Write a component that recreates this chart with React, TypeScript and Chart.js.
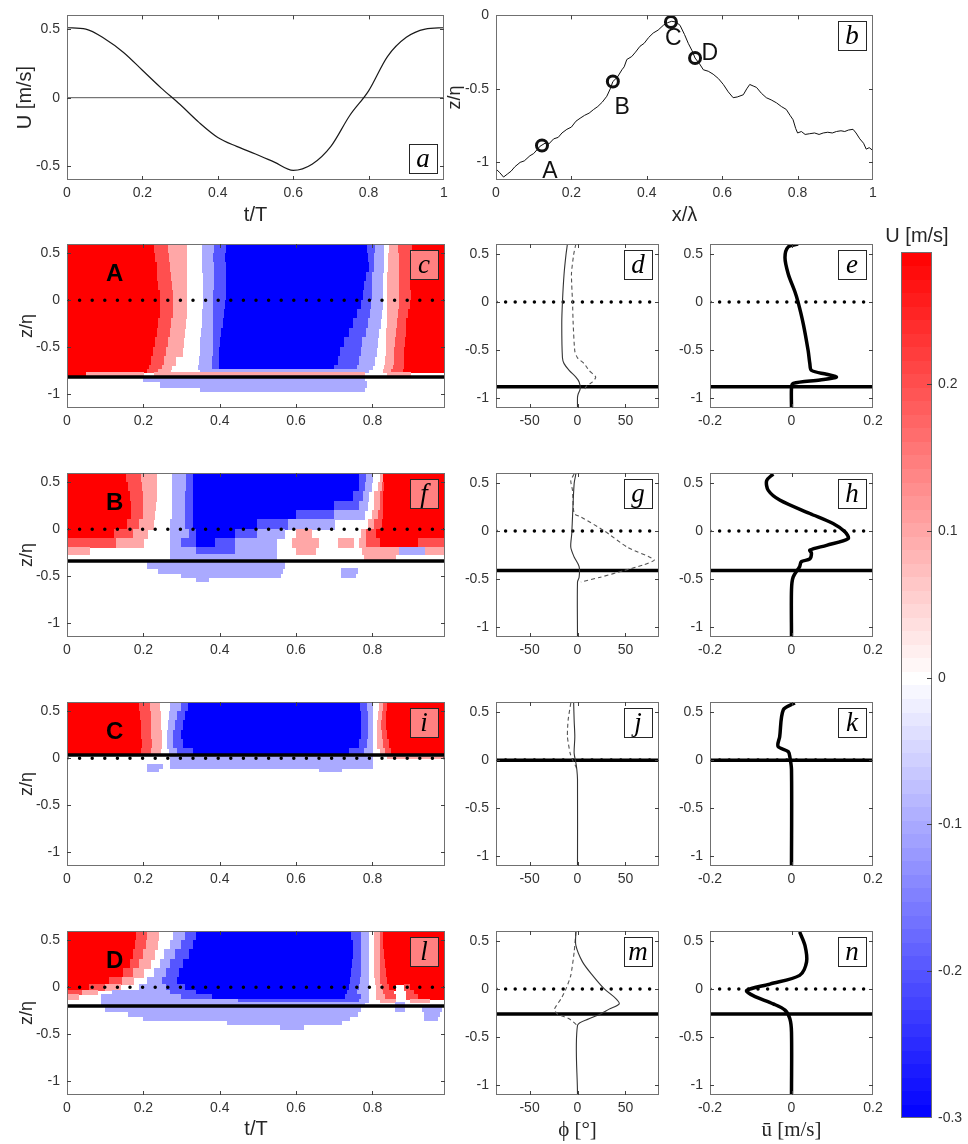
import React, { useEffect, useRef } from 'react';
import { Chart, registerables } from 'chart.js';

Chart.register(...registerables);

const PAGE_W = 968;
const PAGE_H = 1144;
const SANS = '"Liberation Sans", Arial, Helvetica, sans-serif';
const SERIF = '"Liberation Serif", "DejaVu Serif", "Times New Roman", serif';
const INK = '#262626';

// ---------------- (a) free-stream velocity over a wave period ----------------
const aT = [0, 0.05, 0.1, 0.15, 0.2, 0.25, 0.3, 0.35, 0.4, 0.45, 0.5, 0.55, 0.6, 0.65, 0.7, 0.75, 0.8, 0.85, 0.9, 0.95, 1];
const aU = [0.51, 0.5, 0.43, 0.33, 0.2, 0.07, -0.05, -0.18, -0.29, -0.355, -0.41, -0.47, -0.53, -0.485, -0.355, -0.13, 0.05, 0.3, 0.44, 0.5, 0.51];
const aXTicks = [0, 0.2, 0.4, 0.6, 0.8, 1];
const aYTicks = [-0.5, 0, 0.5];

// ---------------- (b) bed profile with measuring sites ----------------
const bX = [0, 0.01, 0.02, 0.03, 0.04, 0.05, 0.064, 0.075, 0.09, 0.1, 0.117, 0.13, 0.14, 0.153, 0.165, 0.175, 0.188, 0.2, 0.212, 0.223, 0.235, 0.247, 0.259, 0.27, 0.282, 0.294, 0.303, 0.31, 0.322, 0.334, 0.34, 0.347, 0.36, 0.37, 0.382, 0.393, 0.405, 0.417, 0.43, 0.444, 0.455, 0.466, 0.477, 0.488, 0.5, 0.51, 0.52, 0.528, 0.54, 0.55, 0.563, 0.576, 0.59, 0.603, 0.616, 0.629, 0.64, 0.656, 0.665, 0.673, 0.682, 0.691, 0.704, 0.717, 0.73, 0.744, 0.757, 0.77, 0.78, 0.788, 0.795, 0.8, 0.81, 0.82, 0.832, 0.845, 0.857, 0.868, 0.88, 0.892, 0.903, 0.915, 0.925, 0.935, 0.947, 0.955, 0.965, 0.975, 0.982, 0.99, 1];
const bZ = [-1.045, -1.07, -1.1, -1.08, -1.06, -1.03, -1.0, -0.99, -0.955, -0.94, -0.89, -0.87, -0.875, -0.84, -0.83, -0.8, -0.775, -0.76, -0.72, -0.7, -0.68, -0.665, -0.64, -0.62, -0.59, -0.55, -0.5, -0.45, -0.42, -0.37, -0.35, -0.3, -0.28, -0.25, -0.21, -0.19, -0.15, -0.12, -0.1, -0.067, -0.05, -0.04, -0.045, -0.067, -0.13, -0.19, -0.24, -0.29, -0.33, -0.37, -0.38, -0.4, -0.43, -0.47, -0.52, -0.56, -0.555, -0.54, -0.5, -0.47, -0.48, -0.49, -0.53, -0.56, -0.575, -0.595, -0.62, -0.64, -0.68, -0.71, -0.77, -0.8, -0.79, -0.81, -0.805, -0.8, -0.81, -0.8, -0.795, -0.8, -0.79, -0.785, -0.79, -0.78, -0.775, -0.8, -0.84, -0.87, -0.91, -0.9, -0.92];
const siteNames = ['A', 'B', 'C', 'D'];
const siteX = [0.122, 0.31, 0.464, 0.528];
const siteZ = [-0.885, -0.45, -0.045, -0.29];
const siteLabelX = [0.143, 0.335, 0.47, 0.567];
const siteLabelZ = [-1.06, -0.63, -0.16, -0.26];
const bXTicks = [0, 0.2, 0.4, 0.6, 0.8, 1];
const bYTicks = [-1, -0.5, 0];

// ---------------- contour panels: rows [zTop, zBottom, U, tEnd, U, tEnd, ...] ----------------
const tTicks = [0, 0.2, 0.4, 0.6, 0.8];
const zTicks = [-1, -0.5, 0, 0.5];

const contourA = [
  [0.6, 0.5, 0.3, 0.23, 0.2, 0.265, 0.1, 0.312, 0, 0.355, -0.1, 0.385, -0.2, 0.418, -0.3, 0.787, -0.2, 0.808, -0.1, 0.83, 0, 0.845, 0.1, 0.868, 0.2, 0.905, 0.3, 1],
  [0.5, 0.4, 0.3, 0.232, 0.2, 0.268, 0.1, 0.312, 0, 0.356, -0.1, 0.383, -0.2, 0.415, -0.3, 0.79, -0.2, 0.805, -0.1, 0.828, 0, 0.842, 0.1, 0.87, 0.2, 0.9, 0.3, 1],
  [0.4, 0.3, 0.3, 0.236, 0.2, 0.272, 0.1, 0.313, 0, 0.356, -0.1, 0.385, -0.2, 0.418, -0.3, 0.792, -0.2, 0.805, -0.1, 0.828, 0, 0.842, 0.1, 0.872, 0.2, 0.9, 0.3, 1],
  [0.3, 0.2, 0.3, 0.238, 0.2, 0.274, 0.1, 0.313, 0, 0.357, -0.1, 0.385, -0.2, 0.418, -0.3, 0.785, -0.2, 0.8, -0.1, 0.826, 0, 0.84, 0.1, 0.872, 0.2, 0.9, 0.3, 1],
  [0.2, 0.1, 0.3, 0.24, 0.2, 0.276, 0.1, 0.314, 0, 0.357, -0.1, 0.385, -0.2, 0.418, -0.3, 0.78, -0.2, 0.8, -0.1, 0.826, 0, 0.84, 0.1, 0.872, 0.2, 0.9, 0.3, 1],
  [0.1, 0.0, 0.3, 0.244, 0.2, 0.279, 0.1, 0.314, 0, 0.357, -0.1, 0.384, -0.2, 0.418, -0.3, 0.776, -0.2, 0.8, -0.1, 0.826, 0, 0.84, 0.1, 0.872, 0.2, 0.902, 0.3, 1],
  [0.0, -0.1, 0.3, 0.245, 0.2, 0.28, 0.1, 0.314, 0, 0.357, -0.1, 0.383, -0.2, 0.415, -0.3, 0.77, -0.2, 0.798, -0.1, 0.826, 0, 0.84, 0.1, 0.87, 0.2, 0.9, 0.3, 1],
  [-0.1, -0.2, 0.3, 0.244, 0.2, 0.278, 0.1, 0.312, 0, 0.356, -0.1, 0.383, -0.2, 0.412, -0.3, 0.762, -0.2, 0.795, -0.1, 0.824, 0, 0.84, 0.1, 0.868, 0.2, 0.895, 0.3, 1],
  [-0.2, -0.3, 0.3, 0.24, 0.2, 0.274, 0.1, 0.31, 0, 0.354, -0.1, 0.384, -0.2, 0.41, -0.3, 0.75, -0.2, 0.79, -0.1, 0.82, 0, 0.84, 0.1, 0.865, 0.2, 0.89, 0.3, 1],
  [-0.3, -0.4, 0.3, 0.236, 0.2, 0.27, 0.1, 0.308, 0, 0.352, -0.1, 0.384, -0.2, 0.405, -0.3, 0.74, -0.2, 0.785, -0.1, 0.815, 0, 0.838, 0.1, 0.862, 0.2, 0.888, 0.3, 1],
  [-0.4, -0.5, 0.3, 0.232, 0.2, 0.265, 0.1, 0.306, 0, 0.35, -0.1, 0.384, -0.2, 0.402, -0.3, 0.728, -0.2, 0.775, -0.1, 0.812, 0, 0.837, 0.1, 0.86, 0.2, 0.886, 0.3, 1],
  [-0.5, -0.6, 0.3, 0.226, 0.2, 0.26, 0.1, 0.302, 0, 0.35, -0.1, 0.383, -0.2, 0.4, -0.3, 0.715, -0.2, 0.77, -0.1, 0.81, 0, 0.836, 0.1, 0.858, 0.2, 0.885, 0.3, 1],
  [-0.6, -0.7, 0.3, 0.22, 0.2, 0.255, 0.1, 0.285, 0, 0.347, -0.1, 0.38, -0.2, 0.4, -0.3, 0.71, -0.2, 0.765, -0.1, 0.805, 0, 0.835, 0.1, 0.857, 0.2, 0.884, 0.3, 1],
  [-0.7, -0.74, 0.3, 0.215, 0.2, 0.25, 0.1, 0.275, 0, 0.345, -0.1, 0.38, -0.2, 0.4, -0.3, 0.7, -0.2, 0.76, -0.1, 0.8, 0, 0.832, 0.1, 0.855, 0.2, 0.884, 0.3, 1],
  [-0.74, -0.77, 0.3, 0.21, 0.2, 0.24, 0.1, 0.27, 0, 0.35, -0.1, 0.79, 0, 0.83, 0.1, 0.85, 0.2, 0.88, 0.3, 1],
  [-0.77, -0.8, 0.3, 0.05, 0.1, 0.2, 0, 0.23, 0.1, 0.78, 0, 0.84, 0.1, 0.9, 0, 1],
  [-0.83, -0.87, 0, 0.2, -0.1, 0.78, 0, 1],
  [-0.87, -0.93, 0, 0.245, -0.1, 0.785, 0, 1],
  [-0.93, -0.97, 0, 0.35, -0.1, 0.78, 0, 1],
];

const contourB = [
  [0.6, 0.5, 0.3, 0.157, 0.2, 0.196, 0.1, 0.235, 0, 0.275, -0.1, 0.314, -0.2, 0.33, -0.3, 0.767, -0.2, 0.785, -0.1, 0.8, 0, 0.82, 0.1, 0.83, 0.3, 1],
  [0.5, 0.4, 0.3, 0.16, 0.2, 0.198, 0.1, 0.235, 0, 0.275, -0.1, 0.312, -0.2, 0.33, -0.3, 0.765, -0.2, 0.783, -0.1, 0.798, 0, 0.815, 0.1, 0.825, 0.2, 0.832, 0.3, 1],
  [0.4, 0.3, 0.3, 0.165, 0.2, 0.2, 0.1, 0.235, 0, 0.275, -0.1, 0.31, -0.2, 0.33, -0.3, 0.75, -0.2, 0.776, -0.1, 0.79, 0, 0.806, 0.1, 0.82, 0.2, 0.83, 0.3, 1],
  [0.3, 0.2, 0.3, 0.168, 0.2, 0.2, 0.1, 0.232, 0, 0.275, -0.1, 0.31, -0.2, 0.33, -0.3, 0.7, -0.2, 0.765, -0.1, 0.786, 0, 0.806, 0.1, 0.82, 0.2, 0.83, 0.3, 1],
  [0.2, 0.1, 0.3, 0.17, 0.2, 0.2, 0.1, 0.23, 0, 0.275, -0.1, 0.31, -0.2, 0.33, -0.3, 0.6, -0.2, 0.7, -0.1, 0.78, 0, 0.8, 0.1, 0.815, 0.2, 0.828, 0.3, 1],
  [0.1, 0.0, 0.3, 0.158, 0.2, 0.19, 0.1, 0.227, 0, 0.272, -0.1, 0.31, -0.2, 0.33, -0.3, 0.5, -0.2, 0.58, -0.1, 0.7, 0, 0.79, 0.1, 0.805, 0.2, 0.825, 0.3, 1],
  [0.0, -0.1, 0.3, 0.125, 0.2, 0.175, 0.1, 0.21, 0, 0.27, -0.1, 0.32, -0.2, 0.34, -0.3, 0.44, -0.2, 0.5, -0.1, 0.57, 0, 0.6, 0.1, 0.64, 0, 0.77, 0.1, 0.785, 0.2, 0.81, 0.3, 1],
  [-0.1, -0.2, 0.2, 0.13, 0.1, 0.2, 0, 0.27, -0.1, 0.3, -0.2, 0.34, -0.3, 0.39, -0.2, 0.44, -0.1, 0.55, 0, 0.59, 0.1, 0.66, 0, 0.71, 0.1, 0.75, 0, 0.765, 0.1, 0.785, 0.2, 0.82, 0.3, 0.92, 0.2, 1],
  [-0.2, -0.27, 0.1, 0.06, 0, 0.27, -0.1, 0.34, -0.2, 0.44, -0.1, 0.55, 0, 0.6, 0.1, 0.65, 0, 0.775, 0.1, 0.87, -0.1, 0.94, 0.1, 1],
  [-0.27, -0.33, 0, 0.27, -0.1, 0.55, 0, 0.78, 0.1, 0.86, 0, 1],
  [-0.36, -0.42, 0, 0.21, -0.1, 0.57, 0, 1],
  [-0.42, -0.47, 0, 0.24, -0.1, 0.565, 0, 0.72, -0.1, 0.76, 0, 1],
  [-0.47, -0.51, 0, 0.3, -0.1, 0.56, 0, 0.72, -0.1, 0.755, 0, 1],
  [-0.51, -0.56, 0, 0.34, -0.1, 0.37, 0, 1],
];

const contourC = [
  [0.6, 0.5, 0.3, 0.19, 0.2, 0.218, 0.1, 0.243, 0, 0.27, -0.1, 0.3, -0.2, 0.318, -0.3, 0.768, -0.2, 0.788, -0.1, 0.8, 0, 0.818, 0.1, 0.828, 0.2, 0.84, 0.3, 1],
  [0.5, 0.4, 0.3, 0.192, 0.2, 0.22, 0.1, 0.245, 0, 0.268, -0.1, 0.29, -0.2, 0.31, -0.3, 0.77, -0.2, 0.79, -0.1, 0.8, 0, 0.815, 0.1, 0.826, 0.2, 0.838, 0.3, 1],
  [0.4, 0.3, 0.3, 0.195, 0.2, 0.222, 0.1, 0.246, 0, 0.266, -0.1, 0.285, -0.2, 0.305, -0.3, 0.772, -0.2, 0.79, -0.1, 0.8, 0, 0.812, 0.1, 0.824, 0.2, 0.836, 0.3, 1],
  [0.3, 0.2, 0.3, 0.196, 0.2, 0.222, 0.1, 0.247, 0, 0.264, -0.1, 0.28, -0.2, 0.3, -0.3, 0.77, -0.2, 0.79, -0.1, 0.8, 0, 0.812, 0.1, 0.826, 0.2, 0.84, 0.3, 1],
  [0.2, 0.1, 0.3, 0.197, 0.2, 0.223, 0.1, 0.248, 0, 0.264, -0.1, 0.28, -0.2, 0.305, -0.3, 0.765, -0.2, 0.788, -0.1, 0.8, 0, 0.814, 0.1, 0.83, 0.2, 0.845, 0.3, 1],
  [0.1, 0.04, 0.3, 0.195, 0.2, 0.22, 0.1, 0.245, 0, 0.268, -0.1, 0.29, -0.2, 0.33, -0.3, 0.74, -0.2, 0.78, -0.1, 0.8, 0, 0.82, 0.1, 0.835, 0.2, 0.85, 0.3, 1],
  [0.04, 0.0, 0, 0.27, -0.1, 0.8, 0, 0.84, 0.1, 1],
  [0.0, -0.07, 0, 0.27, -0.1, 0.8, 0, 1],
  [-0.07, -0.11, 0, 0.21, -0.1, 0.25, 0, 0.27, -0.1, 0.8, 0, 1],
  [-0.11, -0.145, 0, 0.21, -0.1, 0.24, 0, 0.66, -0.1, 0.72, 0, 1],
];

const contourD = [
  [0.6, 0.5, 0.3, 0.183, 0.2, 0.21, 0.1, 0.24, 0, 0.28, -0.1, 0.31, -0.2, 0.34, -0.3, 0.745, -0.2, 0.77, -0.1, 0.79, 0, 0.806, 0.1, 0.82, 0.2, 0.828, 0.3, 1],
  [0.5, 0.4, 0.3, 0.18, 0.2, 0.207, 0.1, 0.236, 0, 0.27, -0.1, 0.3, -0.2, 0.33, -0.3, 0.75, -0.2, 0.772, -0.1, 0.79, 0, 0.806, 0.1, 0.82, 0.2, 0.83, 0.3, 1],
  [0.4, 0.3, 0.3, 0.175, 0.2, 0.2, 0.1, 0.228, 0, 0.255, -0.1, 0.285, -0.2, 0.32, -0.3, 0.75, -0.2, 0.772, -0.1, 0.79, 0, 0.806, 0.1, 0.82, 0.2, 0.832, 0.3, 1],
  [0.3, 0.2, 0.3, 0.165, 0.2, 0.19, 0.1, 0.218, 0, 0.244, -0.1, 0.27, -0.2, 0.305, -0.3, 0.748, -0.2, 0.77, -0.1, 0.79, 0, 0.806, 0.1, 0.82, 0.2, 0.835, 0.3, 1],
  [0.2, 0.1, 0.3, 0.148, 0.2, 0.175, 0.1, 0.2, 0, 0.228, -0.1, 0.26, -0.2, 0.295, -0.3, 0.745, -0.2, 0.77, -0.1, 0.79, 0, 0.806, 0.1, 0.82, 0.2, 0.838, 0.3, 1],
  [0.1, 0.03, 0.3, 0.11, 0.2, 0.145, 0.1, 0.175, 0, 0.21, -0.1, 0.25, -0.2, 0.29, -0.3, 0.742, -0.2, 0.768, -0.1, 0.79, 0, 0.808, 0.1, 0.82, 0.2, 0.84, 0.3, 1],
  [0.03, -0.03, 0.3, 0.06, 0.2, 0.1, 0.1, 0.14, 0, 0.19, -0.1, 0.26, -0.2, 0.31, -0.3, 0.74, -0.2, 0.765, -0.1, 0.79, 0, 0.81, 0.1, 0.825, 0.2, 0.845, 0.3, 0.86, 0, 0.885, 0.2, 0.9, 0.3, 1],
  [-0.03, -0.08, 0.2, 0.04, 0.1, 0.08, 0, 0.12, -0.1, 0.27, -0.2, 0.34, -0.3, 0.735, -0.2, 0.76, -0.1, 0.79, 0, 0.81, 0.1, 0.83, 0.2, 0.855, 0, 0.89, 0.2, 0.91, 0.3, 1],
  [-0.08, -0.13, 0.1, 0.03, 0, 0.09, -0.1, 0.3, -0.2, 0.38, -0.3, 0.73, -0.2, 0.77, -0.1, 0.79, 0, 0.81, 0.1, 0.835, 0.2, 0.86, 0, 0.89, 0.2, 0.92, 0.3, 1],
  [-0.13, -0.16, 0, 0.09, -0.1, 0.45, -0.2, 0.765, -0.1, 0.79, 0, 0.82, 0.1, 0.86, 0, 0.9, 0.1, 0.95, 0, 1],
  [-0.16, -0.21, 0, 0.09, -0.1, 0.78, 0, 0.86, -0.1, 0.885, 0, 1],
  [-0.21, -0.26, 0, 0.1, -0.1, 0.77, 0, 0.86, -0.1, 0.885, 0, 0.93, -0.1, 0.98, 0, 1],
  [-0.26, -0.31, 0, 0.16, -0.1, 0.76, 0, 0.935, -0.1, 0.975, 0, 1],
  [-0.31, -0.36, 0, 0.2, -0.1, 0.74, 0, 0.935, -0.1, 0.97, 0, 1],
  [-0.36, -0.4, 0, 0.42, -0.1, 0.72, 0, 1],
  [-0.4, -0.45, 0, 0.56, -0.1, 0.62, 0, 1],
];

const contourRows = [contourA, contourB, contourC, contourD];
const contourBed = [-0.82, -0.34, 0.035, -0.2];
const profileBed = [-0.88, -0.41, -0.005, -0.26];

// ---------------- phase profiles (phi, degrees) ----------------
const phiTicks = [-50, 0, 50];
const phiSolidZ = [
  [0.6, 0.49, 0.29, 0, -0.23, -0.58, -0.64, -0.71, -0.78, -0.83, -0.9, -0.955, -0.99, -1.1],
  [0.59, 0.49, 0.145, -0.03, -0.17, -0.27, -0.37, -0.48, -0.53, -1.1],
  [0.59, 0.41, 0.24, 0.07, -0.03, -0.1, -0.2, -1.1],
  [0.59, 0.45, 0.28, 0.14, 0, -0.1, -0.155, -0.21, -0.26, -0.31, -0.38, -1.1],
];
const phiSolid = [
  [-10.5, -12, -14, -15.7, -16.4, -15.7, -14, -8.7, -1.7, 1.7, 2.8, 0.7, 0, 0],
  [-1.7, -3.5, -5.2, -6, -7, -3.5, 1.7, 1.7, 0, 0],
  [-4, -3.5, -2.8, -3.5, -1.7, -0.7, 0, 0],
  [-1.7, -1.7, 5.2, 15.7, 28, 40, 43.5, 33, 24, 12, 0, 0],
];
const phiDashZ = [
  [0.6, 0.49, 0.29, 0, -0.23, -0.51, -0.58, -0.64, -0.71, -0.78, -0.83, -0.88, -0.92],
  [0.59, 0.52, 0.42, 0.18, 0.145, 0, -0.17, -0.3, -0.355, -0.41, -0.48, -0.53],
  [0.59, 0.41, 0.24, 0.07, 0, -0.07, -0.1],
  [0.59, 0.38, 0.14, 0, -0.1, -0.21, -0.26, -0.31, -0.38],
];
const phiDash = [
  [-1.7, -4, -6.3, -5.2, -4.5, -2.8, 0, 7, 12, 19, 15.7, 8.7, 7],
  [-3.5, -7, -5.2, -3.5, 3.5, 28, 52, 80, 68, 49, 24, 3.5],
  [-7, -9.8, -10.5, -7.7, -5.2, -1.7, -0.7],
  [-1.7, -3.5, -7, -12, -17, -24, -21, -8.7, 0],
];

// ---------------- mean velocity profiles (m/s) ----------------
const ubarTicks = [-0.2, 0, 0.2];
const ubarZ = [
  [0.6, 0.57, 0.46, 0.29, 0.11, 0, -0.23, -0.51, -0.64, -0.71, -0.75, -0.78, -0.81, -0.845, -0.89, -1.1],
  [0.59, 0.52, 0.42, 0.32, 0.18, 0.076, -0.01, -0.08, -0.15, -0.2, -0.23, -0.29, -0.32, -0.37, -0.48, -0.61, -1.1],
  [0.59, 0.52, 0.24, 0.14, 0.086, 0.03, -0.1, -1.1],
  [0.59, 0.45, 0.28, 0.14, 0.05, -0.017, -0.07, -0.155, -0.22, -0.31, -0.45, -1.1],
];
const ubar = [
  [0.016, -0.008, -0.016, -0.008, 0.008, 0.016, 0.029, 0.041, 0.045, 0.049, 0.086, 0.11, 0.07, 0.004, 0, 0],
  [-0.045, -0.061, -0.057, -0.029, 0.045, 0.102, 0.131, 0.139, 0.086, 0.045, 0.049, 0.045, 0.024, 0.02, 0.004, 0, 0],
  [0.008, -0.02, -0.029, -0.033, -0.008, -0.004, 0, 0],
  [0.02, 0.033, 0.037, 0.02, -0.053, -0.11, -0.094, -0.045, -0.016, -0.004, 0, 0],
];

const cbTicks = [-0.3, -0.2, -0.1, 0, 0.1, 0.2];
const contourTags = ['c', 'f', 'i', 'l'];
const phiTags = ['d', 'g', 'j', 'm'];
const ubarTags = ['e', 'h', 'k', 'n'];

// ---------------- layout ----------------
const ROW_TOPS = [244, 473, 702, 931];
const ROW_H = 164;
const AXW = 60;
const AXH = 40;
const CBW = 50;

function colormap(u: number): string {
  const lo = -0.3;
  const hi = 0.29;
  if (u < 0) {
    const f = Math.min(1, u / lo);
    const c = Math.round(255 * (1 - f));
    return `rgb(${c},${c},255)`;
  }
  const f = Math.min(1, u / hi);
  const c = Math.round(255 * (1 - f));
  return `rgb(255,${c},${c})`;
}

function axis(pos: string, min: number, max: number, ticks: number[], size: number, show = true) {
  const horiz = pos === 'bottom' || pos === 'top';
  return {
    type: 'linear',
    position: pos,
    min,
    max,
    display: true,
    grid: { display: false, drawTicks: false },
    border: { display: false },
    afterBuildTicks: (s: any) => {
      s.ticks = ticks.map((v) => ({ value: v }));
    },
    afterFit: (s: any) => {
      if (horiz) s.height = size;
      else s.width = size;
    },
    ticks: {
      display: show,
      autoSkip: false,
      maxRotation: 0,
      minRotation: 0,
      padding: horiz ? 5 : pos === 'right' ? 6 : 7,
      color: '#333',
      font: { family: SANS, size: 14 },
      callback: (v: any) => String(v),
    },
  };
}

function pts(xs: number[], ys: number[]) {
  return xs.map((x, i) => ({ x, y: ys[i] }));
}

function line(xs: number[], ys: number[], style: any) {
  return { data: pts(xs, ys), pointRadius: 0, fill: false, ...style };
}

const dotted = (gap: number) => ({ borderColor: '#000', borderWidth: 3.5, borderDash: [0, gap], borderCapStyle: 'round' });
const bedStyle = { borderColor: '#000', borderWidth: 3.5 };

// ---------------- plugins ----------------
function framePlugin(xTicksOn = true, ySides = ['left', 'right'], len = 4) {
  return {
    id: 'frame',
    afterDatasetsDraw(chart: any) {
      const { ctx, chartArea } = chart;
      const { left, right, top, bottom } = chartArea;
      ctx.save();
      ctx.strokeStyle = '#707070';
      ctx.lineWidth = 1;
      ctx.strokeRect(Math.round(left) + 0.5, Math.round(top) + 0.5, Math.round(right - left) - 1, Math.round(bottom - top) - 1);
      ctx.strokeStyle = '#404040';
      ctx.beginPath();
      if (xTicksOn) {
        const xs = chart.scales.x;
        xs.ticks.forEach((t: any) => {
          const p = Math.round(xs.getPixelForValue(t.value)) + 0.5;
          if (p <= left + 1 || p >= right - 1) return;
          ctx.moveTo(p, bottom);
          ctx.lineTo(p, bottom - len);
          ctx.moveTo(p, top);
          ctx.lineTo(p, top + len);
        });
      }
      const ys = chart.scales.y;
      ys.ticks.forEach((t: any) => {
        const p = Math.round(ys.getPixelForValue(t.value)) + 0.5;
        if (p <= top + 1 || p >= bottom - 1) return;
        if (ySides.includes('left')) {
          ctx.moveTo(left, p);
          ctx.lineTo(left + len, p);
        }
        if (ySides.includes('right')) {
          ctx.moveTo(right, p);
          ctx.lineTo(right - len, p);
        }
      });
      ctx.stroke();
      ctx.restore();
    },
  };
}

function bandsPlugin(rows: number[][]) {
  return {
    id: 'bands',
    beforeDatasetsDraw(chart: any) {
      const { ctx, chartArea: ca } = chart;
      const xs = chart.scales.x;
      const ys = chart.scales.y;
      ctx.save();
      ctx.beginPath();
      ctx.rect(ca.left, ca.top, ca.right - ca.left, ca.bottom - ca.top);
      ctx.clip();
      for (const row of rows) {
        const y0 = Math.floor(ys.getPixelForValue(row[0]));
        const y1 = Math.ceil(ys.getPixelForValue(row[1]));
        let t0 = 0;
        for (let i = 2; i < row.length; i += 2) {
          const u = row[i];
          const t1 = row[i + 1];
          if (u !== 0) {
            const x0 = Math.floor(xs.getPixelForValue(t0));
            const x1 = Math.ceil(xs.getPixelForValue(t1));
            ctx.fillStyle = colormap(u);
            ctx.fillRect(x0, y0, x1 - x0, y1 - y0);
          }
          t0 = t1;
        }
      }
      ctx.restore();
    },
  };
}

function colorbarPlugin() {
  return {
    id: 'cbar',
    beforeDatasetsDraw(chart: any) {
      const { ctx, chartArea: ca } = chart;
      const ys = chart.scales.y;
      const n = 64;
      const lo = ys.min;
      const hi = ys.max;
      ctx.save();
      for (let i = 0; i < n; i++) {
        const v0 = lo + ((hi - lo) * i) / n;
        const v1 = lo + ((hi - lo) * (i + 1)) / n;
        const yA = Math.floor(ys.getPixelForValue(v1));
        const yB = Math.ceil(ys.getPixelForValue(v0));
        ctx.fillStyle = colormap((v0 + v1) / 2);
        ctx.fillRect(ca.left, yA, ca.right - ca.left, yB - yA);
      }
      ctx.restore();
    },
  };
}

type TextItem = { text: string; x: number; y: number; font: string; rot?: number; data?: boolean; color?: string };

function textPlugin(items: TextItem[]) {
  return {
    id: 'texts',
    afterDraw(chart: any) {
      const ctx = chart.ctx;
      for (const t of items) {
        let x = t.x;
        let y = t.y;
        if (t.data) {
          x = chart.scales.x.getPixelForValue(t.x);
          y = chart.scales.y.getPixelForValue(t.y);
        }
        ctx.save();
        ctx.font = t.font;
        ctx.fillStyle = t.color || INK;
        ctx.textAlign = 'center';
        ctx.textBaseline = 'middle';
        ctx.translate(x, y);
        if (t.rot) ctx.rotate(t.rot);
        ctx.fillText(t.text, 0, 0);
        ctx.restore();
      }
    },
  };
}

function tagPlugin(letter: string, atBottom = false, fill = '#fff') {
  return {
    id: 'tag',
    afterDraw(chart: any) {
      const { ctx, chartArea } = chart;
      const w = 28;
      const h = 29;
      const x = Math.round(chartArea.right - 7 - w);
      const y = Math.round(atBottom ? chartArea.bottom - 7 - h : chartArea.top + 6);
      ctx.save();
      ctx.fillStyle = fill;
      ctx.fillRect(x, y, w, h);
      ctx.strokeStyle = '#262626';
      ctx.lineWidth = 1;
      ctx.strokeRect(x + 0.5, y + 0.5, w, h);
      ctx.font = `italic 27px ${SERIF}`;
      ctx.fillStyle = '#000';
      ctx.textAlign = 'center';
      ctx.textBaseline = 'middle';
      ctx.fillText(letter, x + w / 2, y + h / 2 + 1);
      ctx.restore();
    },
  };
}

type Rect = { l: number; t: number; r: number; b: number };

function panel(rect: Rect, xr: number[], yr: number[], xt: number[], yt: number[], datasets: any[], plugins: any[]) {
  return {
    type: 'line',
    data: { datasets },
    options: {
      responsive: false,
      animation: false,
      events: [],
      layout: { padding: { left: rect.l - AXW, top: rect.t, right: PAGE_W - rect.r, bottom: PAGE_H - rect.b - AXH } },
      elements: { point: { radius: 0 }, line: { tension: 0 } },
      plugins: { legend: { display: false }, tooltip: { enabled: false } },
      scales: {
        x: axis('bottom', xr[0], xr[1], xt, AXH),
        y: axis('left', yr[0], yr[1], yt, AXW),
      },
    },
    plugins,
  };
}

const ROT = -Math.PI / 2;
const TITLE = `20px ${SANS}`;
const ZTITLE = `18px ${SANS}`;

function buildConfigs(): any[] {
  const cfgs: any[] = [];

  // (a)
  cfgs.push(
    panel(
      { l: 67, t: 15, r: 444, b: 180 },
      [0, 1],
      [-0.6, 0.6],
      aXTicks,
      aYTicks,
      [
        line(aT, aU, { borderColor: '#1a1a1a', borderWidth: 1.2, cubicInterpolationMode: 'monotone' }),
        line([0, 1], [0, 0], { borderColor: '#555', borderWidth: 1 }),
      ],
      [
        framePlugin(),
        tagPlugin('a', true),
        textPlugin([
          { text: 'U [m/s]', x: 25, y: 97.5, rot: ROT, font: TITLE },
          { text: 't/T', x: 255.5, y: 215, font: TITLE },
        ]),
      ],
    ),
  );

  // (b)
  const siteTexts: TextItem[] = siteNames.map((s, i) => ({ text: s, x: siteLabelX[i], y: siteLabelZ[i], data: true, font: `23px ${SANS}`, color: '#111' }));
  cfgs.push(
    panel(
      { l: 496, t: 15, r: 873, b: 180 },
      [0, 1],
      [-1.12, 0],
      bXTicks,
      bYTicks,
      [
        line(siteX, siteZ, { showLine: false, pointRadius: 5.5, pointBorderWidth: 3, pointBorderColor: '#111', pointBackgroundColor: 'rgba(0,0,0,0)' }),
        line(bX, bZ, { borderColor: '#111', borderWidth: 1 }),
      ],
      [
        framePlugin(),
        tagPlugin('b'),
        textPlugin([
          { text: 'z/η', x: 455, y: 97.5, rot: ROT, font: ZTITLE },
          { text: 'x/λ', x: 684.5, y: 215, font: TITLE },
          ...siteTexts,
        ]),
      ],
    ),
  );

  // rows of contour / phase / mean velocity
  for (let r = 0; r < 4; r++) {
    const top = ROW_TOPS[r];
    const bottom = top + ROW_H;
    const last = r === 3;

    const cTexts: TextItem[] = [
      { text: 'z/η', x: 27, y: top + ROW_H / 2, rot: ROT, font: ZTITLE },
      { text: siteNames[r], x: 0.125, y: 0.28, data: true, font: `bold 24px ${SANS}`, color: '#000' },
    ];
    if (last) cTexts.push({ text: 't/T', x: 256, y: 1129, font: TITLE });
    cfgs.push(
      panel(
        { l: 67, t: top, r: 445, b: bottom },
        [0, 0.99],
        [-1.15, 0.6],
        tTicks,
        zTicks,
        [line([0, 1], [contourBed[r], contourBed[r]], bedStyle), line([0, 1], [0, 0], dotted(12.6))],
        [bandsPlugin(contourRows[r]), framePlugin(), tagPlugin(contourTags[r], false, 'rgba(255,255,255,0.5)'), textPlugin(cTexts)],
      ),
    );

    const pTexts: TextItem[] = last ? [{ text: 'ϕ [°]', x: 577.5, y: 1130, font: `21px ${SERIF}` }] : [];
    cfgs.push(
      panel(
        { l: 496, t: top, r: 659, b: bottom },
        [-85, 85],
        [-1.1, 0.6],
        phiTicks,
        zTicks,
        [
          line(phiSolid[r], phiSolidZ[r], { borderColor: '#333', borderWidth: 1.1, tension: 0.3 }),
          line(phiDash[r], phiDashZ[r], { borderColor: '#555', borderWidth: 1.1, borderDash: [4, 3], tension: 0.2 }),
          line([-85, 85], [profileBed[r], profileBed[r]], bedStyle),
          line([-85, 85], [0, 0], dotted(9.6)),
        ],
        [framePlugin(), tagPlugin(phiTags[r]), textPlugin(pTexts)],
      ),
    );

    const uTexts: TextItem[] = last ? [{ text: 'ū [m/s]', x: 791.5, y: 1130, font: `21px ${SERIF}` }] : [];
    cfgs.push(
      panel(
        { l: 710, t: top, r: 873, b: bottom },
        [-0.2, 0.2],
        [-1.1, 0.6],
        ubarTicks,
        zTicks,
        [
          line(ubar[r], ubarZ[r], { borderColor: '#000', borderWidth: 3.5, tension: 0.3 }),
          line([-0.2, 0.2], [profileBed[r], profileBed[r]], bedStyle),
          line([-0.2, 0.2], [0, 0], dotted(9.6)),
        ],
        [framePlugin(), tagPlugin(ubarTags[r]), textPlugin(uTexts)],
      ),
    );
  }

  // colorbar
  const cb = { l: 901, t: 252, r: 932, b: 1118 };
  cfgs.push({
    type: 'line',
    data: { datasets: [] },
    options: {
      responsive: false,
      animation: false,
      events: [],
      layout: { padding: { left: cb.l, top: cb.t, right: PAGE_W - cb.r - CBW, bottom: PAGE_H - cb.b } },
      plugins: { legend: { display: false }, tooltip: { enabled: false } },
      scales: {
        x: { type: 'linear', display: false, min: 0, max: 1 },
        y: axis('right', -0.3, 0.29, cbTicks, CBW),
      },
    },
    plugins: [colorbarPlugin(), framePlugin(false, ['right'], 5), textPlugin([{ text: 'U [m/s]', x: 917, y: 236, font: TITLE }])],
  });

  return cfgs;
}

const N_CHARTS = 15;

export default function App() {
  const refs = useRef<(HTMLCanvasElement | null)[]>([]);

  useEffect(() => {
    Chart.defaults.font.family = SANS;
    const configs = buildConfigs();
    const charts = configs.map((cfg, i) => new Chart(refs.current[i] as HTMLCanvasElement, cfg as any));
    return () => {
      charts.forEach((c) => c.destroy());
    };
  }, []);

  return (
    <div style={{ position: 'absolute', left: 0, top: 0, width: PAGE_W, height: PAGE_H, background: '#fff', overflow: 'hidden' }}>
      {Array.from({ length: N_CHARTS }).map((_, i) => (
        <canvas
          key={i}
          ref={(el) => {
            refs.current[i] = el;
          }}
          width={PAGE_W}
          height={PAGE_H}
          style={{ position: 'absolute', left: 0, top: 0, width: PAGE_W, height: PAGE_H }}
        />
      ))}
    </div>
  );
}
